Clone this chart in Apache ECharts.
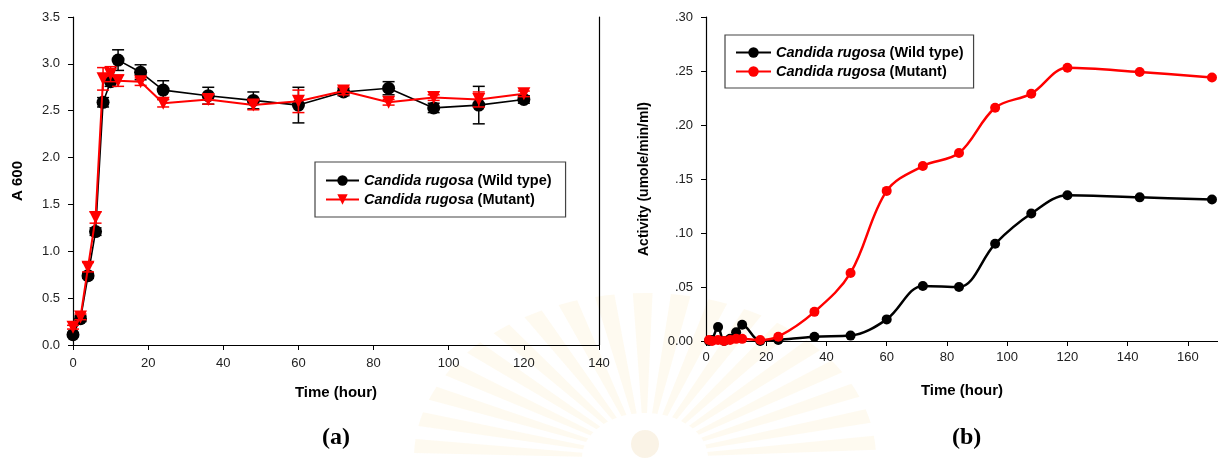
<!DOCTYPE html>
<html lang="en">

<head>
    <meta charset="UTF-8">
    <title>Candida rugosa growth and activity</title>
    <script src="https://cdn.jsdelivr.net/npm/echarts@6/dist/echarts.min.js"></script>
    <style>
        html, body { margin: 0; padding: 0; background: #fff; }
        #chart { width: 1218px; height: 458px; }
    </style>
</head>

<body>
    <div id="chart"></div>

    <script>
        // (a) growth, A 600
        const timeA = [0, 2, 4, 6, 8, 10, 12, 18, 24, 36, 48, 60, 72, 84, 96, 108, 120];
        const wildA = [0.11, 0.28, 0.74, 1.21, 2.59, 2.81, 3.04, 2.91, 2.72, 2.66, 2.61, 2.56, 2.70, 2.74, 2.53, 2.56, 2.62];
        const wildAErr = [0.02, 0.03, 0.03, 0.04, 0.05, 0.05, 0.11, 0.08, 0.10, 0.09, 0.09, 0.19, 0.04, 0.07, 0.05, 0.20, 0.04];
        const mutA = [0.19, 0.30, 0.83, 1.36, 2.84, 2.89, 2.82, 2.81, 2.58, 2.62, 2.56, 2.60, 2.71, 2.59, 2.64, 2.62, 2.68];
        const mutAErr = [0.02, 0.03, 0.05, 0.06, 0.12, 0.08, 0.06, 0.04, 0.04, 0.05, 0.05, 0.12, 0.04, 0.03, 0.03, 0.08, 0.03];

        // (b) lipase activity
        const timeB = [1, 2, 4, 6, 8, 10, 12, 18, 24, 36, 48, 60, 72, 84, 96, 108, 120, 144, 168];
        const wildB = [0.000, 0.001, 0.013, 0.000, 0.002, 0.008, 0.015, 0.000, 0.001, 0.004, 0.005, 0.020, 0.051, 0.050, 0.090, 0.118, 0.135, 0.133, 0.131];
        const mutB = [0.001, 0.000, 0.001, 0.000, 0.001, 0.002, 0.002, 0.001, 0.004, 0.027, 0.063, 0.139, 0.162, 0.174, 0.216, 0.229, 0.253, 0.249, 0.244];

        const legendNames = {
            aWild: 'Wild type', aMut: 'Mutant',
            bWild: 'Wild type', bMut: 'Mutant'
        };

        const zip = (xs, ys) => xs.map((x, i) => [x, ys[i]]);
        const zip3 = (xs, ys, es) => xs.map((x, i) => [x, ys[i], es[i]]);

        function errorBars(color) {
            return function (params, api) {
                const x = api.value(0), y = api.value(1), e = api.value(2);
                const hi = api.coord([x, y + e]);
                const lo = api.coord([x, y - e]);
                const w = 6;
                const style = { stroke: color, lineWidth: 1.5 };
                return {
                    type: 'group',
                    children: [
                        { type: 'line', shape: { x1: hi[0], y1: hi[1], x2: lo[0], y2: lo[1] }, style: style },
                        { type: 'line', shape: { x1: hi[0] - w, y1: hi[1], x2: hi[0] + w, y2: hi[1] }, style: style },
                        { type: 'line', shape: { x1: lo[0] - w, y1: lo[1], x2: lo[0] + w, y2: lo[1] }, style: style }
                    ]
                };
            };
        }

        // faint watermark fan behind the panels
        const fan = [];
        for (let i = 0; i < 19; i++) {
            const a0 = Math.PI + i * Math.PI / 19;
            fan.push({
                type: 'sector',
                shape: { cx: 0, cy: 0, r0: 45, r: 165, startAngle: a0 + 0.03, endAngle: a0 + Math.PI / 19 - 0.05 },
                style: { fill: '#fbf0cc', opacity: 0.3 }
            });
        }
        fan.push({ type: 'ellipse', shape: { cx: 0, cy: -14, rx: 10, ry: 14 }, style: { fill: '#f3e2c0', opacity: 0.4 } });

        const font = 'Liberation Sans, Arial, sans-serif';
        const axisCommon = {
            axisLine: { show: true, lineStyle: { color: '#000', width: 1.2 } },
            axisTick: { show: true, inside: false, length: 5, lineStyle: { color: '#000' } },
            axisLabel: { color: '#222', fontSize: 13, fontFamily: font, margin: 12 },
            splitLine: { show: false },
            nameTextStyle: { color: '#000', fontSize: 15, fontWeight: 'bold', fontFamily: font }
        };

        const legendText = {
            fontFamily: font,
            fontSize: 14.5,
            fontWeight: 'bold',
            color: '#000',
            rich: {
                sp: { fontFamily: font, fontSize: 14.5, fontWeight: 'bold', fontStyle: 'italic', color: '#000' },
                st: { fontFamily: font, fontSize: 14.5, fontWeight: 'bold', color: '#000' }
            }
        };
        const legendFormatter = name => '{sp|Candida rugosa} {st|(' + legendNames[name] + ')}';

        const chart = echarts.init(document.getElementById('chart'), null, { renderer: 'canvas' });

        const option = {
            backgroundColor: '#fff',
            animation: false,
            grid: [
                { left: 73, top: 17, width: 526, height: 328 },
                { left: 706, top: 17, width: 514, height: 324 }
            ],
            xAxis: [
                Object.assign({}, axisCommon, {
                    gridIndex: 0, type: 'value', min: 0, max: 140, interval: 20,
                    name: 'Time (hour)', nameLocation: 'middle', nameGap: 40,
                    axisLabel: Object.assign({}, axisCommon.axisLabel, { margin: 12 })
                }),
                Object.assign({}, axisCommon, {
                    gridIndex: 1, type: 'value', min: 0, max: 170, interval: 20,
                    name: 'Time (hour)', nameLocation: 'middle', nameGap: 42,
                    axisLabel: Object.assign({}, axisCommon.axisLabel, { margin: 10, showMaxLabel: false })
                })
            ],
            yAxis: [
                Object.assign({}, axisCommon, {
                    gridIndex: 0, type: 'value', min: 0, max: 3.5, interval: 0.5,
                    name: 'A 600', nameLocation: 'middle', nameGap: 48, nameRotate: 90,
                    axisLabel: Object.assign({}, axisCommon.axisLabel, { margin: 13, formatter: v => v.toFixed(1) })
                }),
                // right border of panel (a)
                {
                    gridIndex: 0, type: 'value', min: 0, max: 3.5, position: 'right',
                    axisLine: { show: true, lineStyle: { color: '#000', width: 1.2 } },
                    axisTick: { show: false }, axisLabel: { show: false }, splitLine: { show: false }
                },
                Object.assign({}, axisCommon, {
                    gridIndex: 1, type: 'value', min: 0, max: 0.30, interval: 0.05,
                    name: 'Activity (umole/min/ml)', nameLocation: 'middle', nameGap: 55, nameRotate: 90,
                    nameTextStyle: Object.assign({}, axisCommon.nameTextStyle, { fontSize: 14 }),
                    axisLabel: Object.assign({}, axisCommon.axisLabel, {
                        margin: 13,
                        formatter: v => v === 0 ? '0.00' : '.' + v.toFixed(2).split('.')[1]
                    })
                })
            ],
            legend: [
                {
                    data: ['aWild', 'aMut'],
                    left: 315, top: 162, orient: 'vertical',
                    padding: [11, 14, 10, 10], itemGap: 4,
                    itemWidth: 33, itemHeight: 13,
                    borderColor: '#444', borderWidth: 1.2,
                    backgroundColor: '#fff',
                    textStyle: legendText, formatter: legendFormatter,
                    selectedMode: false
                },
                {
                    data: ['bWild', 'bMut'],
                    left: 725, top: 35, orient: 'vertical',
                    padding: [10, 10, 9, 10], itemGap: 4,
                    itemWidth: 35, itemHeight: 13,
                    borderColor: '#444', borderWidth: 1.2,
                    backgroundColor: '#fff',
                    textStyle: legendText, formatter: legendFormatter,
                    selectedMode: false
                }
            ],
            graphic: [
                { type: 'group', x: 645, y: 458, scaleX: 1.4, z: -10, silent: true, children: fan },
                {
                    type: 'text', left: 336 - 14, top: 426,
                    style: { text: '(a)', fill: '#000', font: 'bold 24px "Liberation Serif", "Times New Roman", serif' }
                },
                {
                    type: 'text', left: 966 - 14, top: 426,
                    style: { text: '(b)', fill: '#000', font: 'bold 24px "Liberation Serif", "Times New Roman", serif' }
                }
            ],
            series: [
                {
                    type: 'custom', xAxisIndex: 0, yAxisIndex: 0,
                    renderItem: errorBars('#000'), data: zip3(timeA, wildA, wildAErr), z: 2
                },
                {
                    name: 'aWild', type: 'line', xAxisIndex: 0, yAxisIndex: 0,
                    data: zip(timeA, wildA),
                    symbol: 'circle', symbolSize: 13,
                    lineStyle: { color: '#000', width: 1.6 },
                    itemStyle: { color: '#000' }, z: 3
                },
                {
                    type: 'custom', xAxisIndex: 0, yAxisIndex: 0,
                    renderItem: errorBars('#ff0000'), data: zip3(timeA, mutA, mutAErr), z: 4
                },
                {
                    name: 'aMut', type: 'line', xAxisIndex: 0, yAxisIndex: 0,
                    data: zip(timeA, mutA),
                    symbol: 'triangle', symbolRotate: 180, symbolSize: 13,
                    lineStyle: { color: '#ff0000', width: 2 },
                    itemStyle: { color: '#ff0000' }, z: 5
                },
                {
                    name: 'bWild', type: 'line', xAxisIndex: 1, yAxisIndex: 2,
                    data: zip(timeB, wildB), smooth: 0.35,
                    symbol: 'circle', symbolSize: 10,
                    lineStyle: { color: '#000', width: 2.5 },
                    itemStyle: { color: '#000' }, z: 3
                },
                {
                    name: 'bMut', type: 'line', xAxisIndex: 1, yAxisIndex: 2,
                    data: zip(timeB, mutB), smooth: 0.35,
                    symbol: 'circle', symbolSize: 10,
                    lineStyle: { color: '#ff0000', width: 2.5 },
                    itemStyle: { color: '#ff0000' }, z: 4
                }
            ]
        };

        chart.setOption(option);
    </script>

</body>

</html>
